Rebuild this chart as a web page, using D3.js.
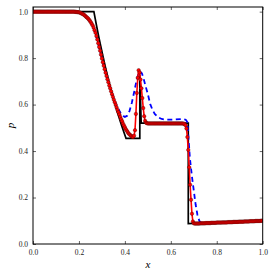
<!DOCTYPE html>
<html>
<head>
<meta charset="utf-8">
<script src="https://cdnjs.cloudflare.com/ajax/libs/d3/7.8.5/d3.min.js"></script>
<style>
  body { margin: 0; background: #fff; }
  .tick text { font-family: "Liberation Serif", serif; font-size: 7.5px; fill: #222; }
</style>
</head>
<body>
<div id="chart-area"></div>
<script>
// exact solution (black)
var exactX = [0, 0.265, 0.275, 0.285, 0.295, 0.305, 0.315, 0.325, 0.335, 0.345, 0.355, 0.365,
  0.375, 0.385, 0.395, 0.405, 0.465, 0.465, 0.471, 0.676, 0.676, 1.0];
var exactP = [1.0, 1.0, 0.948, 0.898, 0.851, 0.806, 0.762, 0.721, 0.682, 0.645, 0.609, 0.575,
  0.543, 0.512, 0.483, 0.455, 0.455, 0.728, 0.52, 0.52, 0.088, 0.100];

// first scheme (blue dashed)
var blueX = [0, 0.18, 0.20, 0.22, 0.24, 0.25, 0.26, 0.27, 0.28, 0.29, 0.30, 0.31, 0.32, 0.33,
  0.34, 0.35, 0.36, 0.37, 0.38, 0.39, 0.40, 0.41, 0.42, 0.43, 0.44, 0.45, 0.458, 0.466, 0.474,
  0.482, 0.49, 0.50, 0.51, 0.52, 0.53, 0.545, 0.56, 0.58, 0.62, 0.65, 0.665, 0.672, 0.676,
  0.683, 0.692, 0.70, 0.708, 0.716, 0.724, 0.73, 0.75, 1.0];
var blueP = [1.0, 1.0, 0.997, 0.988, 0.970, 0.957, 0.938, 0.912, 0.877, 0.838, 0.797, 0.758,
  0.722, 0.689, 0.658, 0.630, 0.605, 0.584, 0.566, 0.553, 0.547, 0.552, 0.572, 0.607, 0.652,
  0.700, 0.730, 0.742, 0.735, 0.710, 0.680, 0.645, 0.603, 0.578, 0.560, 0.545, 0.538, 0.535,
  0.536, 0.538, 0.535, 0.525, 0.47, 0.37, 0.29, 0.23, 0.17, 0.125, 0.10, 0.092, 0.09, 0.10];

// second scheme (red with markers), one value per cell, dx = 0.004
var dx = 0.004;
var redP = [
  1.0, 1.0, 1.0, 1.0, 1.0, 1.0, 1.0, 1.0, 1.0, 1.0,
  1.0, 1.0, 1.0, 1.0, 1.0, 1.0, 1.0, 1.0, 1.0, 1.0,
  1.0, 1.0, 1.0, 1.0, 1.0, 1.0, 1.0, 1.0, 1.0, 1.0,
  1.0, 1.0, 1.0, 1.0, 1.0, 1.0, 1.0, 1.0, 1.0, 1.0,
  1.0, 1.0, 1.0, 1.0, 1.0, 1.0,
  0.999, 0.999, 0.998, 0.998, 0.997, 0.996, 0.994, 0.992, 0.990, 0.988,
  0.985, 0.981, 0.977, 0.974, 0.970, 0.965, 0.960, 0.954, 0.947, 0.940,
  0.931, 0.920, 0.909, 0.895, 0.880, 0.864, 0.848, 0.832, 0.815, 0.798,
  0.782, 0.767, 0.752, 0.737, 0.723, 0.709, 0.696, 0.682, 0.670, 0.657,
  0.645, 0.633, 0.621, 0.610, 0.599, 0.588, 0.577, 0.567, 0.557, 0.547,
  0.537, 0.528, 0.518, 0.510, 0.502, 0.494, 0.488, 0.482, 0.476, 0.472,
  0.468, 0.465, 0.462, 0.461, 0.466, 0.490, 0.560, 0.650, 0.715, 0.748,
  0.738, 0.708, 0.670, 0.628, 0.585, 0.550, 0.530, 0.522, 0.520,
  0.519, 0.519, 0.519, 0.519, 0.519, 0.519, 0.519, 0.519, 0.519, 0.519,
  0.519, 0.519, 0.519, 0.519, 0.519, 0.519, 0.519, 0.519, 0.519, 0.519,
  0.519, 0.519, 0.519, 0.519, 0.519, 0.519, 0.519, 0.519, 0.519, 0.519,
  0.519, 0.519, 0.519, 0.519, 0.519, 0.519, 0.519, 0.519, 0.519,
  0.518, 0.516, 0.511, 0.497, 0.460, 0.405, 0.330, 0.255, 0.190, 0.130,
  0.097, 0.089,
  0.088, 0.088, 0.088, 0.088, 0.088, 0.088,
  0.089, 0.089, 0.089, 0.089, 0.089, 0.089,
  0.090, 0.090, 0.090, 0.090, 0.090, 0.090,
  0.091, 0.091, 0.091, 0.091, 0.091, 0.091,
  0.092, 0.092, 0.092, 0.092, 0.092, 0.092,
  0.093, 0.093, 0.093, 0.093, 0.093, 0.093,
  0.094, 0.094, 0.094, 0.094, 0.094, 0.094,
  0.095, 0.095, 0.095, 0.095, 0.095, 0.095,
  0.096, 0.096, 0.096, 0.096, 0.096, 0.096,
  0.097, 0.097, 0.097, 0.097, 0.097, 0.097,
  0.098, 0.098, 0.098, 0.098, 0.098, 0.098,
  0.099, 0.099, 0.099, 0.099, 0.099, 0.099,
  0.100, 0.100, 0.100
];

var xTicks = [0.0, 0.2, 0.4, 0.6, 0.8, 1.0];
var yTicks = [0.0, 0.2, 0.4, 0.6, 0.8, 1.0];

var margin = { left: 33, right: 12.3, top: 7, bottom: 31 };
var width = 275 - margin.left - margin.right,
    height = 275 - margin.top - margin.bottom;

var svg = d3.select("#chart-area")
  .append("svg")
    .attr("width", 275)
    .attr("height", 275);

var g = svg.append("g")
  .attr("transform", "translate(" + margin.left + ", " + margin.top + ")");

var x = d3.scaleLinear().domain([0, 1]).range([0, width]);
var y = d3.scaleLinear().domain([0, 1.02]).range([height, 0]);

var fmt = d3.format(".1f");

function styleAxis(sel) {
  sel.select(".domain").remove();
  sel.selectAll(".tick line").attr("stroke", "#000").attr("stroke-width", 0.6);
}

g.append("g")
  .attr("transform", "translate(0," + height + ")")
  .call(d3.axisBottom(x).tickValues(xTicks).tickFormat(fmt).tickSizeInner(-3).tickPadding(6))
  .call(styleAxis);
g.append("g")
  .call(d3.axisTop(x).tickValues(xTicks).tickFormat("").tickSizeInner(-3))
  .call(styleAxis);
g.append("g")
  .call(d3.axisLeft(y).tickValues(yTicks).tickFormat(fmt).tickSizeInner(-3).tickPadding(5))
  .call(styleAxis);
g.append("g")
  .attr("transform", "translate(" + width + ",0)")
  .call(d3.axisRight(y).tickValues(yTicks).tickFormat("").tickSizeInner(-3))
  .call(styleAxis);

svg.append("clipPath").attr("id", "clip")
  .append("rect").attr("width", width).attr("height", height);

var plot = g.append("g").attr("clip-path", "url(#clip)");

var line = d3.line()
  .x(function(d) { return x(d[0]); })
  .y(function(d) { return y(d[1]); });

var exact = exactX.map(function(v, i) { return [v, exactP[i]]; });
var blue = blueX.map(function(v, i) { return [v, blueP[i]]; });
var red = redP.map(function(v, i) { return [i * dx, v]; });

plot.append("path")
  .attr("d", line(exact))
  .attr("fill", "none")
  .attr("stroke", "#000")
  .attr("stroke-width", 1.7);

plot.append("path")
  .attr("d", line(blue))
  .attr("fill", "none")
  .attr("stroke", "#0000ff")
  .attr("stroke-width", 1.8)
  .attr("stroke-dasharray", "5,3.5");

plot.append("path")
  .attr("d", line(red))
  .attr("fill", "none")
  .attr("stroke", "#ff0000")
  .attr("stroke-width", 1.6);

plot.selectAll("circle")
  .data(red)
  .enter()
  .append("circle")
    .attr("cx", function(d) { return x(d[0]); })
    .attr("cy", function(d) { return y(d[1]); })
    .attr("r", 1.75)
    .attr("fill", "#ff0000")
    .attr("stroke", "#4a0000")
    .attr("stroke-width", 0.4);

// frame
g.append("rect")
  .attr("width", width)
  .attr("height", height)
  .attr("fill", "none")
  .attr("stroke", "#000")
  .attr("stroke-width", 1);

g.append("text")
  .attr("x", width / 2)
  .attr("y", height + 24)
  .attr("text-anchor", "middle")
  .attr("font-family", "Liberation Serif, serif")
  .attr("font-style", "italic")
  .attr("font-size", "11px")
  .text("x");

g.append("text")
  .attr("transform", "translate(" + (-19) + "," + (height / 2) + ") rotate(-90)")
  .attr("text-anchor", "middle")
  .attr("font-family", "Liberation Serif, serif")
  .attr("font-style", "italic")
  .attr("font-size", "11px")
  .text("p");
</script>
</body>
</html>
